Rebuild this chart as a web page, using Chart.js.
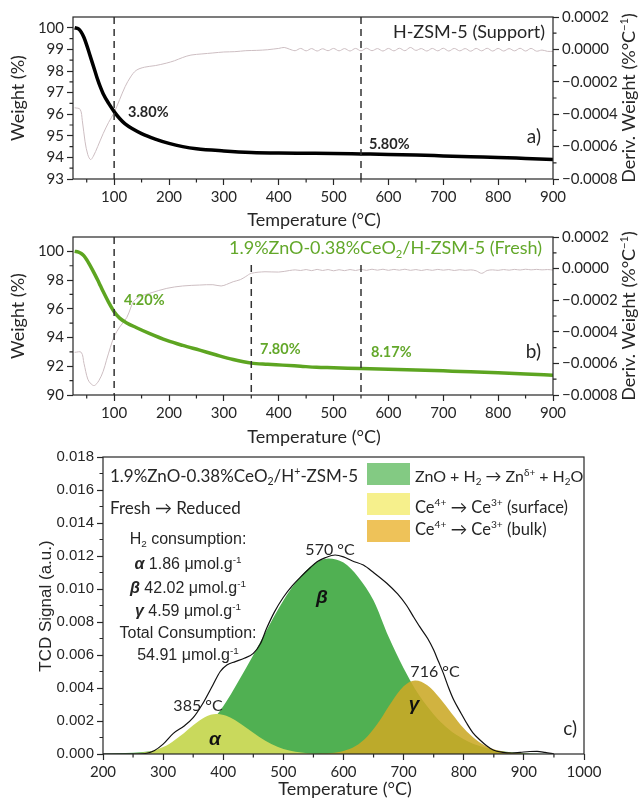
<!DOCTYPE html>
<html><head><meta charset="utf-8">
<script src="https://cdn.jsdelivr.net/npm/chart.js@4.4.1/dist/chart.umd.min.js"></script>
<style>
body{margin:0;background:#fff}
#wrap{position:relative;width:639px;height:803px}
canvas{position:absolute;left:0;top:0}
</style></head><body>
<div id="wrap">
<canvas id="chartA" width="639" height="803"></canvas>
<canvas id="chartB" width="639" height="803"></canvas>
<canvas id="chartC" width="639" height="803"></canvas>
</div>
<script>
// ---- panel a: H-ZSM-5 support TGA ----
const tempA = [28,35,40,45,50,55,60,65,70,75,80,90,100,110,120,135,150,175,200,225,250,300,350,400,450,500,550,600,650,700,750,800,850,900];
const weightA = [100,99.95,99.8,99.55,99.2,98.8,98.4,98.0,97.6,97.25,96.95,96.5,96.12,95.8,95.55,95.3,95.1,94.85,94.65,94.5,94.4,94.3,94.23,94.2,94.19,94.18,94.16,94.14,94.11,94.07,94.03,94.0,93.95,93.9];
const derivTempA = [28,38,42,47,52,57,62,70,80,90,100,110,120,130,140,155,175,195,210,225,240,260,280,300,320,340,360,380,390,
  400,410,420,430,440,450,460,470,480,490,500,510,520,530,540,550,560,570,580,590,600,610,620,630,640,650,660,670,680,690,
  700,710,720,730,740,750,760,770,780,790,800,810,820,830,840,850,860,870,880,890,900];
const derivA = [-0.00036,-0.00037,-0.00044,-0.00057,-0.00065,-0.00068,-0.00066,-0.0006,-0.00052,-0.00045,-0.00039,-0.00031,-0.00023,-0.00017,-0.00013,-0.00011,-0.0001,-0.000085,-0.00007,-0.00005,-0.000035,-0.000028,-0.000022,-0.000016,-0.000014,-0.000008,-0.000006,-0.000002,0.000002,
  0.000006,0.000012,0.000001,-0.000008,0.000006,-0.000009,0.000005,-0.00001,0.000004,-0.000008,
  0.000006,-0.000009,0.000005,-0.00001,0.000006,-0.000009,0.000007,-0.000008,0.000005,-0.00001,
  0.000006,-0.000009,0.000007,-0.000008,0.000012,-0.000006,0.000005,-0.00001,0.000006,-0.000009,
  0.000007,-0.00001,0.000006,-0.000009,0.000005,-0.000011,0.000006,-0.000009,0.000007,-0.00001,
  0.000006,-0.00001,0.000005,-0.000009,0.000007,-0.00001,0.000006,-0.000011,-0.000004,-0.000012,-0.000012];

// ---- panel b: fresh catalyst TGA ----
const tempB = [28,35,40,45,50,55,60,65,70,75,80,90,100,110,123,140,165,196,225,256,285,317,350,380,407,440,469,500,550,600,650,700,750,800,850,900];
const weightB = [100,99.95,99.85,99.68,99.42,99.1,98.75,98.38,98.0,97.6,97.2,96.45,95.8,95.35,95.02,94.7,94.27,93.8,93.45,93.12,92.8,92.47,92.22,92.14,92.08,92.0,91.93,91.9,91.84,91.79,91.74,91.68,91.62,91.55,91.47,91.38];
const derivTempB = [28,40,45,52,58,64,72,80,86,93,100,110,123,130,135,145,165,196,225,256,280,295,305,317,330,340,350,375,400,420,430,
  440,450,460,470,480,490,500,510,520,530,540,550,560,570,580,590,600,610,620,630,640,650,660,670,680,690,
  700,710,720,730,740,750,760,770,780,790,800,810,820,830,840,850,860,870,880,890,900];
const derivB = [-0.00053,-0.00053,-0.0006,-0.0007,-0.00073,-0.00074,-0.00071,-0.00065,-0.00058,-0.0005,-0.00043,-0.00037,-0.00031,-0.00025,-0.00021,-0.00018,-0.000156,-0.000125,-0.00011,-0.000104,-0.000102,-0.00011,-0.0001,-0.000083,-0.00007,-0.00005,-0.00003,-0.00002,-0.000022,-0.000012,-0.000008,
  -0.000012,-0.000006,-0.000013,-0.000005,-0.000012,-0.000006,-0.000014,-0.000007,-0.000013,-0.000006,-0.000012,-0.000005,-0.000011,-0.000004,-0.00001,-0.000004,
  -0.000011,-0.000005,-0.00001,-0.000004,-0.000011,-0.000006,-0.000012,-0.000006,-0.000011,-0.000005,
  -0.00001,-0.000006,-0.000012,-0.000007,-0.000011,-0.000008,-0.000014,-0.00003,-0.000012,-0.000008,
  -0.000011,-0.000006,-0.00001,-0.000005,-0.000009,-0.000004,-0.000008,-0.000005,-0.000008,-0.000006,-0.000009];

// ---- panel c: H2-TPR ----
const tcdTemp = [200,250,270,285,300,317,335,350,365,383,395,406,420,435,450,462,472,485,500,515,528,545,556,570,586,600,615,633,650,672,690,705,715,727,740,750,758,766,775,783,795,805,815,827,838,849,865,880,894,910,922,935,950];
const tcdTotal = [0,0,0.00003,0.0002,0.0006,0.00125,0.0017,0.0022,0.003,0.0042,0.005,0.0054,0.0056,0.0058,0.0061,0.0067,0.0076,0.0086,0.0095,0.0102,0.0107,0.0113,0.01165,0.0119,0.01206,0.01195,0.0117,0.01145,0.011,0.01035,0.0097,0.009,0.0084,0.0077,0.007,0.0063,0.0056,0.0049,0.004,0.0033,0.0025,0.00186,0.0013,0.00085,0.0005,0.00024,0.0001,0.00006,0.0001,0.00015,0.00016,0.0001,0];
const alphaTemp = [250,270,290,310,330,350,370,388,405,420,440,460,480,500,520,540,560];
const alphaPeak = [0.00001,0.0001,0.00028,0.00061,0.00113,0.00175,0.00225,0.00242,0.00232,0.00204,0.00155,0.00103,0.0006,0.0003,0.00014,0.00005,0];
const betaTemp = [200,250,275,300,325,350,375,400,425,450,475,500,525,550,575,600,625,650,675,700,725,750,775,800,825,850,875,900,950];
const betaPeak = [0.00002,0.00008,0.00015,0.0003,0.0006,0.0011,0.0018,0.0029,0.0044,0.006,0.0077,0.0093,0.0106,0.0115,0.01185,0.0116,0.0107,0.0093,0.0071,0.0052,0.0036,0.0024,0.0015,0.0009,0.0005,0.00025,0.00012,0.00005,0];
const gammaTemp = [550,580,600,620,640,660,680,700,719,740,760,780,800,820,840,860,880,900,930];
const gammaPeak = [0,0.00006,0.00018,0.00048,0.00108,0.00202,0.00315,0.0041,0.00445,0.00415,0.0034,0.00246,0.00156,0.00088,0.00043,0.00019,0.00007,0.00002,0];

const LATO = 'Lato, "Open Sans", sans-serif';
const ARIAL = '"Liberation Sans", Arial, sans-serif';
const INK = '#262626';
const GREEN = '#5da521';
Chart.defaults.font.family = LATO;
Chart.defaults.color = INK;

function pts(xs, ys) { return xs.map((x, i) => ({x: x, y: ys[i]})); }
function fixTicks(vals) { return s => { s.ticks = vals.map(v => ({value: v})); }; }
const minus = v => (v === 0 ? '0.0000' : v.toFixed(4).replace('-', '\u2212'));

function rich(ctx, parts, x, y, size, family, align, color) {
  const segs = parts.map(p => {
    const small = p[1] === 'sup' || p[1] === 'sub';
    const style = p[1] === 'bi' ? 'italic bold ' : p[1] === 'b' ? 'bold ' : '';
    return {t: p[0], k: p[1], font: style + (small ? size * 0.62 : size) + 'px ' + family};
  });
  let total = 0;
  segs.forEach(s => { ctx.font = s.font; s.w = ctx.measureText(s.t).width; total += s.w; });
  let cx = align === 'center' ? x - total / 2 : align === 'right' ? x - total : x;
  ctx.fillStyle = color || INK; ctx.textAlign = 'left'; ctx.textBaseline = 'alphabetic';
  segs.forEach(s => {
    ctx.font = s.font;
    const dy = s.k === 'sup' ? -size * 0.4 : s.k === 'sub' ? size * 0.2 : 0;
    ctx.fillText(s.t, cx, y + dy);
    cx += s.w;
  });
}
function vtext(ctx, parts, cx, cy, size, family) {
  ctx.save(); ctx.translate(cx, cy); ctx.rotate(-Math.PI / 2);
  rich(ctx, parts, 0, size * 0.36, size, family, 'center');
  ctx.restore();
}
function frame(chart) {
  const {ctx, chartArea: a} = chart;
  ctx.save(); ctx.strokeStyle = INK; ctx.lineWidth = 1.2;
  ctx.strokeRect(a.left, a.top, a.right - a.left, a.bottom - a.top);
  ctx.restore();
}
function minor(chart, id, vals, len) {
  const s = chart.scales[id], ctx = chart.ctx;
  ctx.save(); ctx.strokeStyle = INK; ctx.lineWidth = 1.2; ctx.beginPath();
  vals.forEach(v => {
    const p = s.getPixelForValue(v);
    if (s.axis === 'x') { ctx.moveTo(p, s.top); ctx.lineTo(p, s.top + len); }
    else if (s.position === 'left') { ctx.moveTo(s.right, p); ctx.lineTo(s.right - len, p); }
    else { ctx.moveTo(s.left, p); ctx.lineTo(s.left + len, p); }
  });
  ctx.stroke(); ctx.restore();
}
function dashed(chart, t, fromTop) {
  const {ctx, chartArea: a} = chart;
  const x = chart.scales.x.getPixelForValue(t);
  ctx.save(); ctx.strokeStyle = '#333'; ctx.lineWidth = 1.5; ctx.setLineDash([7, 5]);
  ctx.beginPath(); ctx.moveTo(x, a.top + fromTop); ctx.lineTo(x, a.bottom); ctx.stroke();
  ctx.restore();
}

function tgaScales(xHeight, leftMin, leftMax, leftTicks) {
  return {
    x: {type: 'linear', min: 25, max: 900, afterBuildTicks: fixTicks([100,200,300,400,500,600,700,800,900]),
      afterFit: s => { s.height = xHeight; },
      grid: {drawOnChartArea: false, color: INK, tickLength: 6, tickWidth: 1.2}, border: {display: false},
      ticks: {font: {size: 15}, color: INK, padding: 3, maxRotation: 0, callback: v => String(v)}},
    y: {type: 'linear', position: 'left', min: leftMin, max: leftMax, afterBuildTicks: fixTicks(leftTicks),
      afterFit: s => { s.width = 73; },
      grid: {drawOnChartArea: false, color: INK, tickLength: 6, tickWidth: 1.2}, border: {display: false},
      ticks: {font: {size: 15}, color: INK, padding: 3}},
    y2: {type: 'linear', position: 'right', min: -0.0008, max: 0.0002,
      afterBuildTicks: fixTicks([-0.0008,-0.0006,-0.0004,-0.0002,0,0.0002]),
      afterFit: s => { s.width = 86; },
      grid: {drawOnChartArea: false, color: INK, tickLength: 6, tickWidth: 1.2}, border: {display: false},
      ticks: {font: {size: 15}, color: INK, padding: 3, callback: minus}}
  };
}
const xMinorTGA = [50,150,250,350,450,550,650,750,850];
const rightMinor = [-0.0007,-0.0005,-0.0003,-0.0001,0.0001];
const derivTitle = [['Deriv. Weight (%\u00b0C', ''], ['\u22121', 'sup'], [')', '']];

new Chart(document.getElementById('chartA'), {
  type: 'line',
  data: {datasets: [
    {data: pts(tempA, weightA), yAxisID: 'y', borderColor: '#000', borderWidth: 3.5, pointRadius: 0, cubicInterpolationMode: 'monotone', order: 0},
    {data: pts(derivTempA, derivA), yAxisID: 'y2', borderColor: '#cdbec2', borderWidth: 1, pointRadius: 0, tension: 0.35, order: 1}
  ]},
  options: {
    responsive: false, animation: false,
    layout: {padding: {top: 17, bottom: 803 - 232, left: 0, right: 0}},
    plugins: {legend: {display: false}, tooltip: {enabled: false}},
    scales: tgaScales(53, 93, 100.5, [93,94,95,96,97,98,99,100])
  },
  plugins: [{id: 'decorA',
    afterDatasetsDraw(c) { dashed(c, 100, 0); dashed(c, 550, 0); },
    afterDraw(c) {
      const ctx = c.ctx;
      frame(c);
      minor(c, 'x', xMinorTGA, 3.5);
      minor(c, 'y', [93.5,94.5,95.5,96.5,97.5,98.5,99.5], 3.5);
      minor(c, 'y2', rightMinor, 3.5);
      rich(ctx, [['H-ZSM-5 (Support)', '']], 545, 38, 18, LATO, 'right');
      rich(ctx, [['a)', '']], 541, 143, 19, LATO, 'right');
      rich(ctx, [['3.80%', 'b']], 128, 117, 14.5, LATO, 'left');
      rich(ctx, [['5.80%', 'b']], 369, 149, 14.5, LATO, 'left');
      rich(ctx, [['Temperature (\u00b0C)', '']], 314, 226, 18, LATO, 'center');
      vtext(ctx, [['Weight (%)', '']], 18, 98, 18, LATO);
      vtext(ctx, derivTitle, 629, 98, 18, LATO);
    }}]
});

new Chart(document.getElementById('chartB'), {
  type: 'line',
  data: {datasets: [
    {data: pts(tempB, weightB), yAxisID: 'y', borderColor: GREEN, borderWidth: 3.5, pointRadius: 0, cubicInterpolationMode: 'monotone', order: 0},
    {data: pts(derivTempB, derivB), yAxisID: 'y2', borderColor: '#cdbec2', borderWidth: 1, pointRadius: 0, tension: 0.35, order: 1}
  ]},
  options: {
    responsive: false, animation: false,
    layout: {padding: {top: 237, bottom: 803 - 454, left: 0, right: 0}},
    plugins: {legend: {display: false}, tooltip: {enabled: false}},
    scales: tgaScales(59, 90, 101, [90,92,94,96,98,100])
  },
  plugins: [{id: 'decorB',
    afterDatasetsDraw(c) { dashed(c, 100, 0); dashed(c, 350, 28); dashed(c, 550, 28); },
    afterDraw(c) {
      const ctx = c.ctx;
      frame(c);
      minor(c, 'x', xMinorTGA, 3.5);
      minor(c, 'y', [91,93,95,97,99], 3.5);
      minor(c, 'y2', rightMinor, 3.5);
      rich(ctx, [['1.9%ZnO-0.38%CeO', ''], ['2', 'sub'], ['/H-ZSM-5 (Fresh)', '']], 542, 254, 18, LATO, 'right', '#63a82a');
      rich(ctx, [['b)', '']], 541, 358, 19, LATO, 'right');
      rich(ctx, [['4.20%', 'b']], 124, 305, 14.5, LATO, 'left', '#63a82a');
      rich(ctx, [['7.80%', 'b']], 260, 354, 14.5, LATO, 'left', '#63a82a');
      rich(ctx, [['8.17%', 'b']], 371, 357, 14.5, LATO, 'left', '#63a82a');
      rich(ctx, [['Temperature (\u00b0C)', '']], 314, 443, 18, LATO, 'center');
      vtext(ctx, [['Weight (%)', '']], 18, 316, 18, LATO);
      vtext(ctx, derivTitle, 629, 316, 18, LATO);
    }}]
});

new Chart(document.getElementById('chartC'), {
  type: 'line',
  data: {datasets: [
    {data: pts(tcdTemp, tcdTotal), borderColor: '#111', borderWidth: 1.2, pointRadius: 0, cubicInterpolationMode: 'monotone', order: 0},
    {data: pts(gammaTemp, gammaPeak), borderWidth: 0, borderColor: 'rgba(0,0,0,0)', backgroundColor: 'rgba(203,168,38,0.88)', fill: 'origin', pointRadius: 0, cubicInterpolationMode: 'monotone', order: 1},
    {data: pts(alphaTemp, alphaPeak), borderWidth: 0, borderColor: 'rgba(0,0,0,0)', backgroundColor: '#c9d95c', fill: 'origin', pointRadius: 0, cubicInterpolationMode: 'monotone', order: 2},
    {data: pts(betaTemp, betaPeak), borderWidth: 0, borderColor: 'rgba(0,0,0,0)', backgroundColor: '#50b052', fill: 'origin', pointRadius: 0, cubicInterpolationMode: 'monotone', order: 3}
  ]},
  options: {
    responsive: false, animation: false,
    layout: {padding: {top: 457, bottom: 0, left: 0, right: 55}},
    plugins: {legend: {display: false}, tooltip: {enabled: false}},
    scales: {
      x: {type: 'linear', min: 200, max: 1000, afterBuildTicks: fixTicks([200,300,400,500,600,700,800,900,1000]),
        afterFit: s => { s.height = 49; },
        grid: {drawOnChartArea: false, color: INK, tickLength: 6, tickWidth: 1.2}, border: {display: false},
        ticks: {font: {size: 15}, color: INK, padding: 3, maxRotation: 0, callback: v => String(v)}},
      y: {type: 'linear', position: 'left', min: 0, max: 0.018,
        afterBuildTicks: fixTicks([0,0.002,0.004,0.006,0.008,0.010,0.012,0.014,0.016,0.018]),
        afterFit: s => { s.width = 103; },
        grid: {drawOnChartArea: false, color: INK, tickLength: 6, tickWidth: 1.2}, border: {display: false},
        ticks: {font: {size: 15, family: ARIAL}, color: INK, padding: 3, callback: v => v.toFixed(3)}}
    }
  },
  plugins: [{id: 'decorC',
    afterDraw(c) {
      const ctx = c.ctx;
      frame(c);
      minor(c, 'x', [250,350,450,550,650,750,850,950], 3.5);
      minor(c, 'y', [0.001,0.003,0.005,0.007,0.009,0.011,0.013,0.015,0.017], 3.5);
      // legend
      [['#83ca83', 463], ['#f6f08c', 493], ['#eec259', 520]].forEach(s => {
        ctx.fillStyle = s[0]; ctx.fillRect(367, s[1], 43, 22);
      });
      rich(ctx, [['ZnO + H', ''], ['2', 'sub'], [' \u2192 Zn', ''], ['\u03b4+', 'sup'], [' + H', ''], ['2', 'sub'], ['O', '']], 415, 482, 16, LATO, 'left');
      rich(ctx, [['Ce', ''], ['4+', 'sup'], [' \u2192 Ce', ''], ['3+', 'sup'], [' (surface)', '']], 415, 513, 16.5, LATO, 'left');
      rich(ctx, [['Ce', ''], ['4+', 'sup'], [' \u2192 Ce', ''], ['3+', 'sup'], [' (bulk)', '']], 415, 535, 16.5, LATO, 'left');
      rich(ctx, [['1.9%ZnO-0.38%CeO', ''], ['2', 'sub'], ['/H', ''], ['+', 'sup'], ['-ZSM-5', '']], 110, 482, 17, LATO, 'left');
      rich(ctx, [['Fresh \u2192 Reduced', '']], 110, 514, 17, LATO, 'left');
      // consumption block
      rich(ctx, [['H', ''], ['2', 'sub'], [' consumption:', '']], 188, 544, 16, ARIAL, 'center');
      rich(ctx, [['\u03b1', 'bi'], [' 1.86 \u03bcmol.g', ''], ['-1', 'sup']], 188, 569, 16, ARIAL, 'center');
      rich(ctx, [['\u03b2', 'bi'], [' 42.02 \u03bcmol.g', ''], ['-1', 'sup']], 188, 593, 16, ARIAL, 'center');
      rich(ctx, [['\u03b3', 'bi'], [' 4.59 \u03bcmol.g', ''], ['-1', 'sup']], 188, 616, 16, ARIAL, 'center');
      rich(ctx, [['Total Consumption:', '']], 188, 638, 16, ARIAL, 'center');
      rich(ctx, [['54.91 \u03bcmol.g', ''], ['-1', 'sup']], 188, 660, 16, ARIAL, 'center');
      // peak labels
      rich(ctx, [['570 \u00b0C', '']], 330, 555, 16, LATO, 'center');
      rich(ctx, [['385 \u00b0C', '']], 198, 711, 16, LATO, 'center');
      rich(ctx, [['716 \u00b0C', '']], 435, 677, 16, LATO, 'center');
      rich(ctx, [['\u03b1', 'bi']], 215, 745, 19, ARIAL, 'center', '#111');
      rich(ctx, [['\u03b2', 'bi']], 322, 603, 19, ARIAL, 'center', '#111');
      rich(ctx, [['\u03b3', 'bi']], 414, 710, 19, ARIAL, 'center', '#111');
      rich(ctx, [['c)', '']], 577, 735, 19, LATO, 'right');
      rich(ctx, [['Temperature (\u00b0C)', '']], 345, 795, 18, LATO, 'center');
      vtext(ctx, [['TCD Signal (a.u.)', '']], 45, 606, 17, ARIAL);
    }}]
});
</script>
</body></html>
